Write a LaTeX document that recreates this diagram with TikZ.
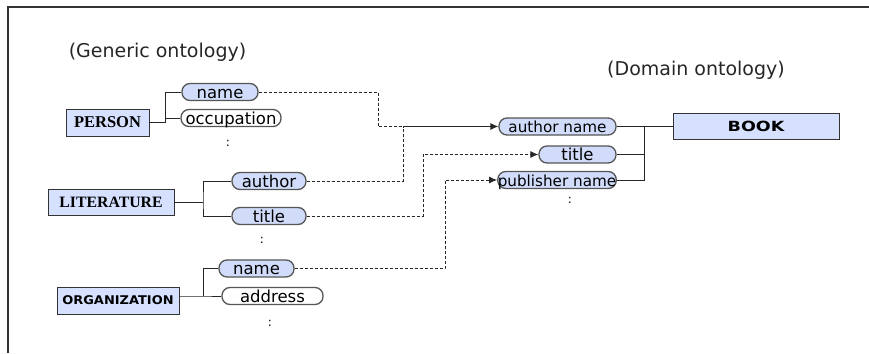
\documentclass[tikz,border=0pt]{standalone}
\usepackage{fontspec}
\setmainfont{DejaVu Sans}
\newfontfamily\capserif{Liberation Serif}
\newfontfamily\widesans[FakeStretch=1.25]{DejaVu Sans}
\newfontfamily\orgsans[FakeStretch=1.08]{DejaVu Sans}
\usetikzlibrary{arrows.meta}
\definecolor{boxfill}{RGB}{214,225,255}
\definecolor{pillfill}{RGB}{208,220,250}
\definecolor{pilledge}{RGB}{85,85,85}
\begin{document}
\begin{tikzpicture}[x=1pt,y=-1pt,
  concept/.style={draw=black!80, line width=0.9pt, fill=boxfill, inner sep=0pt},
  pill/.style={draw=pilledge, line width=1.3pt, fill=pillfill, rounded corners=8pt,
    inner sep=0pt, minimum height=17pt, text height=12.5pt, text depth=0pt,
    font=\fontsize{16.5}{16.5}\selectfont},
  longpill/.style={pill, font=\fontsize{15.2}{15.2}\selectfont},
  blankpill/.style={pill, fill=white},
  dots/.style={inner sep=0pt, font=\fontsize{12}{12}\selectfont},
  heading/.style={inner sep=0pt, font=\fontsize{19}{19}\selectfont, text=black!85},
  tree/.style={line width=0.9pt, draw=black!85},
  link/.style={line width=0.9pt, draw=black!85, dash pattern=on 3pt off 2pt},
  tip/.style={-{Latex[length=8pt,width=7pt]}}]
\useasboundingbox (0,0) rectangle (869,353);

% outer frame (open at the right and bottom)
\draw[line width=1.8pt, black!80] (8,353) -- (8,7) -- (869,7);

% headings
\node[heading] (hgen) at (157.5,52) {(Generic ontology)};
\node[heading] (hdom) at (696,70) {(Domain ontology)};

% generic ontology: concepts
\node[concept, minimum width=83pt, minimum height=27pt,
  font=\capserif\bfseries\fontsize{16.5}{16.5}\selectfont] (person) at (107.5,122.5) {PERSON};
\node[concept, minimum width=126pt, minimum height=26pt,
  font=\capserif\bfseries\fontsize{15.8}{15.8}\selectfont] (lit) at (111,202) {LITERATURE};
\node[concept, minimum width=122pt, minimum height=27pt,
  font=\orgsans\bfseries\fontsize{12}{12}\selectfont] (org) at (118,300.5) {ORGANIZATION};

% generic ontology: attributes
\node[pill, minimum width=76pt] (pname) at (220,92) {name};
\node[blankpill, minimum width=100pt] (occ) at (231,118) {occupation};
\node[dots] (pdots) at (228,143) {:};

\node[pill, minimum width=74pt] (author) at (269,181) {author};
\node[pill, minimum width=74pt] (ltitle) at (269,216) {title};
\node[dots] (ldots) at (262,240) {:};

\node[pill, minimum width=75pt] (oname) at (256.5,268.5) {name};
\node[blankpill, minimum width=101pt] (address) at (272.5,296) {address};
\node[dots] (odots) at (270,323) {:};

% domain ontology
\node[concept, minimum width=166pt, minimum height=26pt,
  font=\widesans\bfseries\fontsize{14}{14}\selectfont] (book) at (756,126.5) {BOOK};
\node[longpill, minimum width=117pt] (aname) at (557.5,126.5) {author name};
\node[pill, minimum width=77pt] (dtitle) at (577.5,154.5) {title};
\node[longpill, minimum width=118pt] (pubname) at (557,180) {publisher name};
\node[dots] (ddots) at (570,200) {:};

% tree joints
\coordinate (jp) at (165,122.5);
\coordinate (jl) at (203,202);
\coordinate (jo) at (203,296);
\coordinate (jb) at (644,126.5);

\draw[tree] (person.east) -- (jp) |- (pname.west);
\draw[tree] (jp |- occ.west) -- (occ.west);
\draw[tree] (lit.east) -- (jl);
\draw[tree] (author.west) -| (jl) |- (ltitle.west);
\draw[tree] (org.east |- jo) -- (jo) -- (address.west);
\draw[tree] (jo) |- (oname.west);
\draw[tree] (aname.east) -- (book.west);
\draw[tree] (jb) |- (dtitle.east);
\draw[tree] (jb) |- (pubname.east);

% mappings between the ontologies
\coordinate (k1) at (378,126.5);
\coordinate (m1) at (403,126.5);
\coordinate (k2) at (423,154.5);
\coordinate (k3) at (445,180);
\draw[link] (pname.east) -| (k1) -- (m1);
\draw[link] (author.east) -| (m1);
\draw[tree, tip] (m1) -- (aname.west);
\draw[link, tip] (ltitle.east) -| (k2) -- (dtitle.west);
\draw[link, tip] (oname.east) -| (k3) -- (pubname.west);
\end{tikzpicture}
\end{document}
